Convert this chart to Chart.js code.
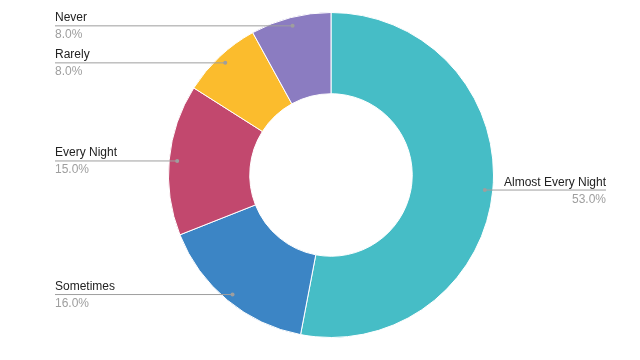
<!DOCTYPE html>
<html>
<head>
<meta charset="utf-8">
<script src="https://cdn.jsdelivr.net/npm/chart.js@4"></script>
<style>
  html, body { margin: 0; padding: 0; background: #fff; }
  #wrap { width: 640px; height: 360px; }
</style>
</head>
<body>
<div id="wrap"><canvas id="myChart" width="640" height="360"></canvas></div>
<script>
labels = ["Almost Every Night", "Sometimes", "Every Night", "Rarely", "Never"]
values = [53, 16, 15, 8, 8]
colors = ["#46BDC6", "#3C85C5", "#C2486E", "#FBBC2D", "#8B7CC1"]

// draws the leader lines and the two-line labels next to each slice
const leaderLabels = {
    id: 'leaderLabels',
    afterDatasetsDraw(chart) {
        const ctx = chart.ctx
        const meta = chart.getDatasetMeta(0)
        const total = values.reduce((a, b) => a + b, 0)
        ctx.save()
        meta.data.forEach((arc, i) => {
            const mid = (arc.startAngle + arc.endAngle) / 2
            const r = arc.outerRadius - 8
            const px = arc.x + Math.cos(mid) * r
            const py = arc.y + Math.sin(mid) * r
            const right = px > arc.x
            const endX = right ? 606 : 55
            const pct = (values[i] / total * 100).toFixed(1) + "%"

            ctx.strokeStyle = "#9e9e9e"
            ctx.lineWidth = 1
            ctx.beginPath()
            ctx.moveTo(px, py + 0.5)
            ctx.lineTo(endX, py + 0.5)
            ctx.stroke()

            ctx.fillStyle = "#9e9e9e"
            ctx.beginPath()
            ctx.arc(px, py + 0.5, 2, 0, Math.PI * 2)
            ctx.fill()

            ctx.font = "12px 'Liberation Sans', Arial, sans-serif"
            ctx.textAlign = right ? "right" : "left"
            ctx.textBaseline = "alphabetic"
            ctx.fillStyle = "#222222"
            ctx.fillText(labels[i], endX, py - 4)
            ctx.fillStyle = "#9e9e9e"
            ctx.fillText(pct, endX, py + 13)
        })
        ctx.restore()
    }
}

const ctx = document.getElementById('myChart')
new Chart(ctx, {
    type: 'doughnut',
    data: {
        labels: labels,
        datasets: [{
            data: values,
            backgroundColor: colors,
            borderColor: "#ffffff",
            borderWidth: 1
        }]
    },
    options: {
        responsive: false,
        animation: false,
        cutout: "50%",
        layout: {
            padding: { left: 168, right: 146, top: 12, bottom: 22 }
        },
        plugins: {
            legend: { display: false },
            tooltip: { enabled: false }
        }
    },
    plugins: [leaderLabels]
})
</script>
</body>
</html>
